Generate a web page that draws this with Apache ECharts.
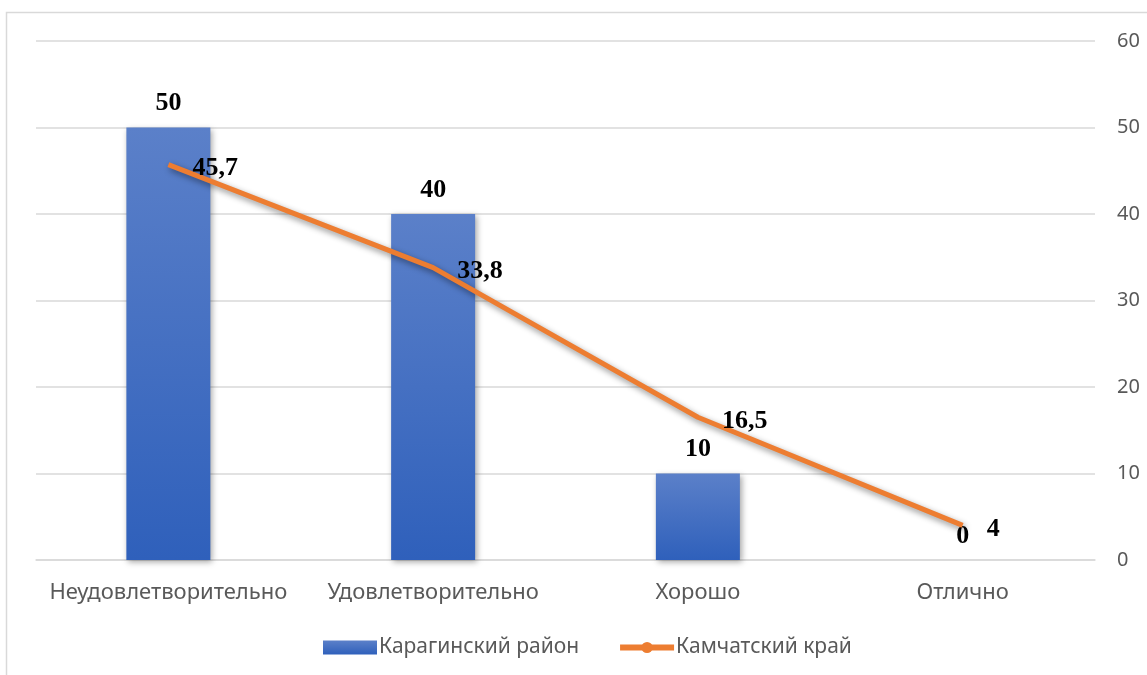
<!DOCTYPE html>
<html><head><meta charset="utf-8">
<script src="https://cdn.jsdelivr.net/npm/echarts@6/dist/echarts.min.js"></script>
<style>html,body{margin:0;padding:0;background:#fff}#c{width:1147px;height:675px}</style>
</head><body><div id="c"></div>
<script>
const categories = ['Неудовлетворительно', 'Удовлетворительно', 'Хорошо', 'Отлично'];
const seriesNames = ['Карагинский район', 'Камчатский край'];
const karaginsky = [50, 40, 10, 0];
const kamchatka = [45.7, 33.8, 16.5, 4];
const yTicks = {min: 0, max: 60, interval: 10};

const fmt = p => String(p.value).replace('.', ',');
const chart = echarts.init(document.getElementById('c'));
chart.setOption({
  animation: false,
  graphic: [{type: 'rect', shape: {x: 6.5, y: 12.5, width: 1200, height: 700},
    style: {fill: 'none', stroke: '#d9d9d9', lineWidth: 1.5}, silent: true, z: -1}],
  grid: {left: 36, right: 52, top: 41, bottom: 115, containLabel: false, outerBoundsMode: 'none'},
  xAxis: {type: 'category', data: categories,
    axisLine: {lineStyle: {color: '#d9d9d9', width: 1.5}},
    axisTick: {show: false},
    axisLabel: {interval: 0, color: '#595959', fontSize: 22, fontFamily: 'Noto Sans', margin: 22}},
  yAxis: {type: 'value', position: 'right', min: yTicks.min, max: yTicks.max, interval: yTicks.interval,
    axisLine: {show: false}, axisTick: {show: false},
    splitLine: {lineStyle: {color: '#d9d9d9', width: 1.5}},
    axisLabel: {color: '#595959', fontSize: 20, fontFamily: 'Noto Sans', margin: 22}},
  legend: {bottom: 12, left: 318, itemGap: 38, itemWidth: 54, itemHeight: 14,
    textStyle: {color: '#595959', fontSize: 21, fontFamily: 'Noto Sans', padding: [0,0,0,-3]},
    data: [{name: seriesNames[0], icon: 'rect'},
           {name: seriesNames[1], itemStyle: {opacity: 1, color: '#ed7d31'}, lineStyle: {width: 6, color: '#ed7d31'}}]},
  series: [
    {name: seriesNames[0], type: 'bar', data: karaginsky, barWidth: 84,
      itemStyle: {color: new echarts.graphic.LinearGradient(0, 0, 0, 1, [
        {offset: 0, color: '#5b80c9'}, {offset: 1, color: '#2f60bb'}]),
        shadowColor: 'rgba(0,0,0,0.35)', shadowBlur: 6, shadowOffsetX: 2, shadowOffsetY: 2},
      label: {show: true, position: 'top', distance: 11, color: '#000', fontSize: 26,
        fontWeight: 'bold', fontFamily: 'Liberation Serif'}},
    {name: seriesNames[1], type: 'line', data: kamchatka, symbol: 'circle', symbolSize: 12,
      showSymbol: true, color: '#ed7d31', itemStyle: {color: 'rgba(237,125,49,0)', borderWidth: 0},
      lineStyle: {width: 5, color: '#ed7d31', shadowColor: 'rgba(0,0,0,0.45)', shadowBlur: 6, shadowOffsetX: 2, shadowOffsetY: 3},
      label: {show: true, position: 'right', distance: 18, offset: [0, 4], formatter: fmt, color: '#000', fontSize: 26,
        fontWeight: 'bold', fontFamily: 'Liberation Serif'}}
  ]
});
</script></body></html>
